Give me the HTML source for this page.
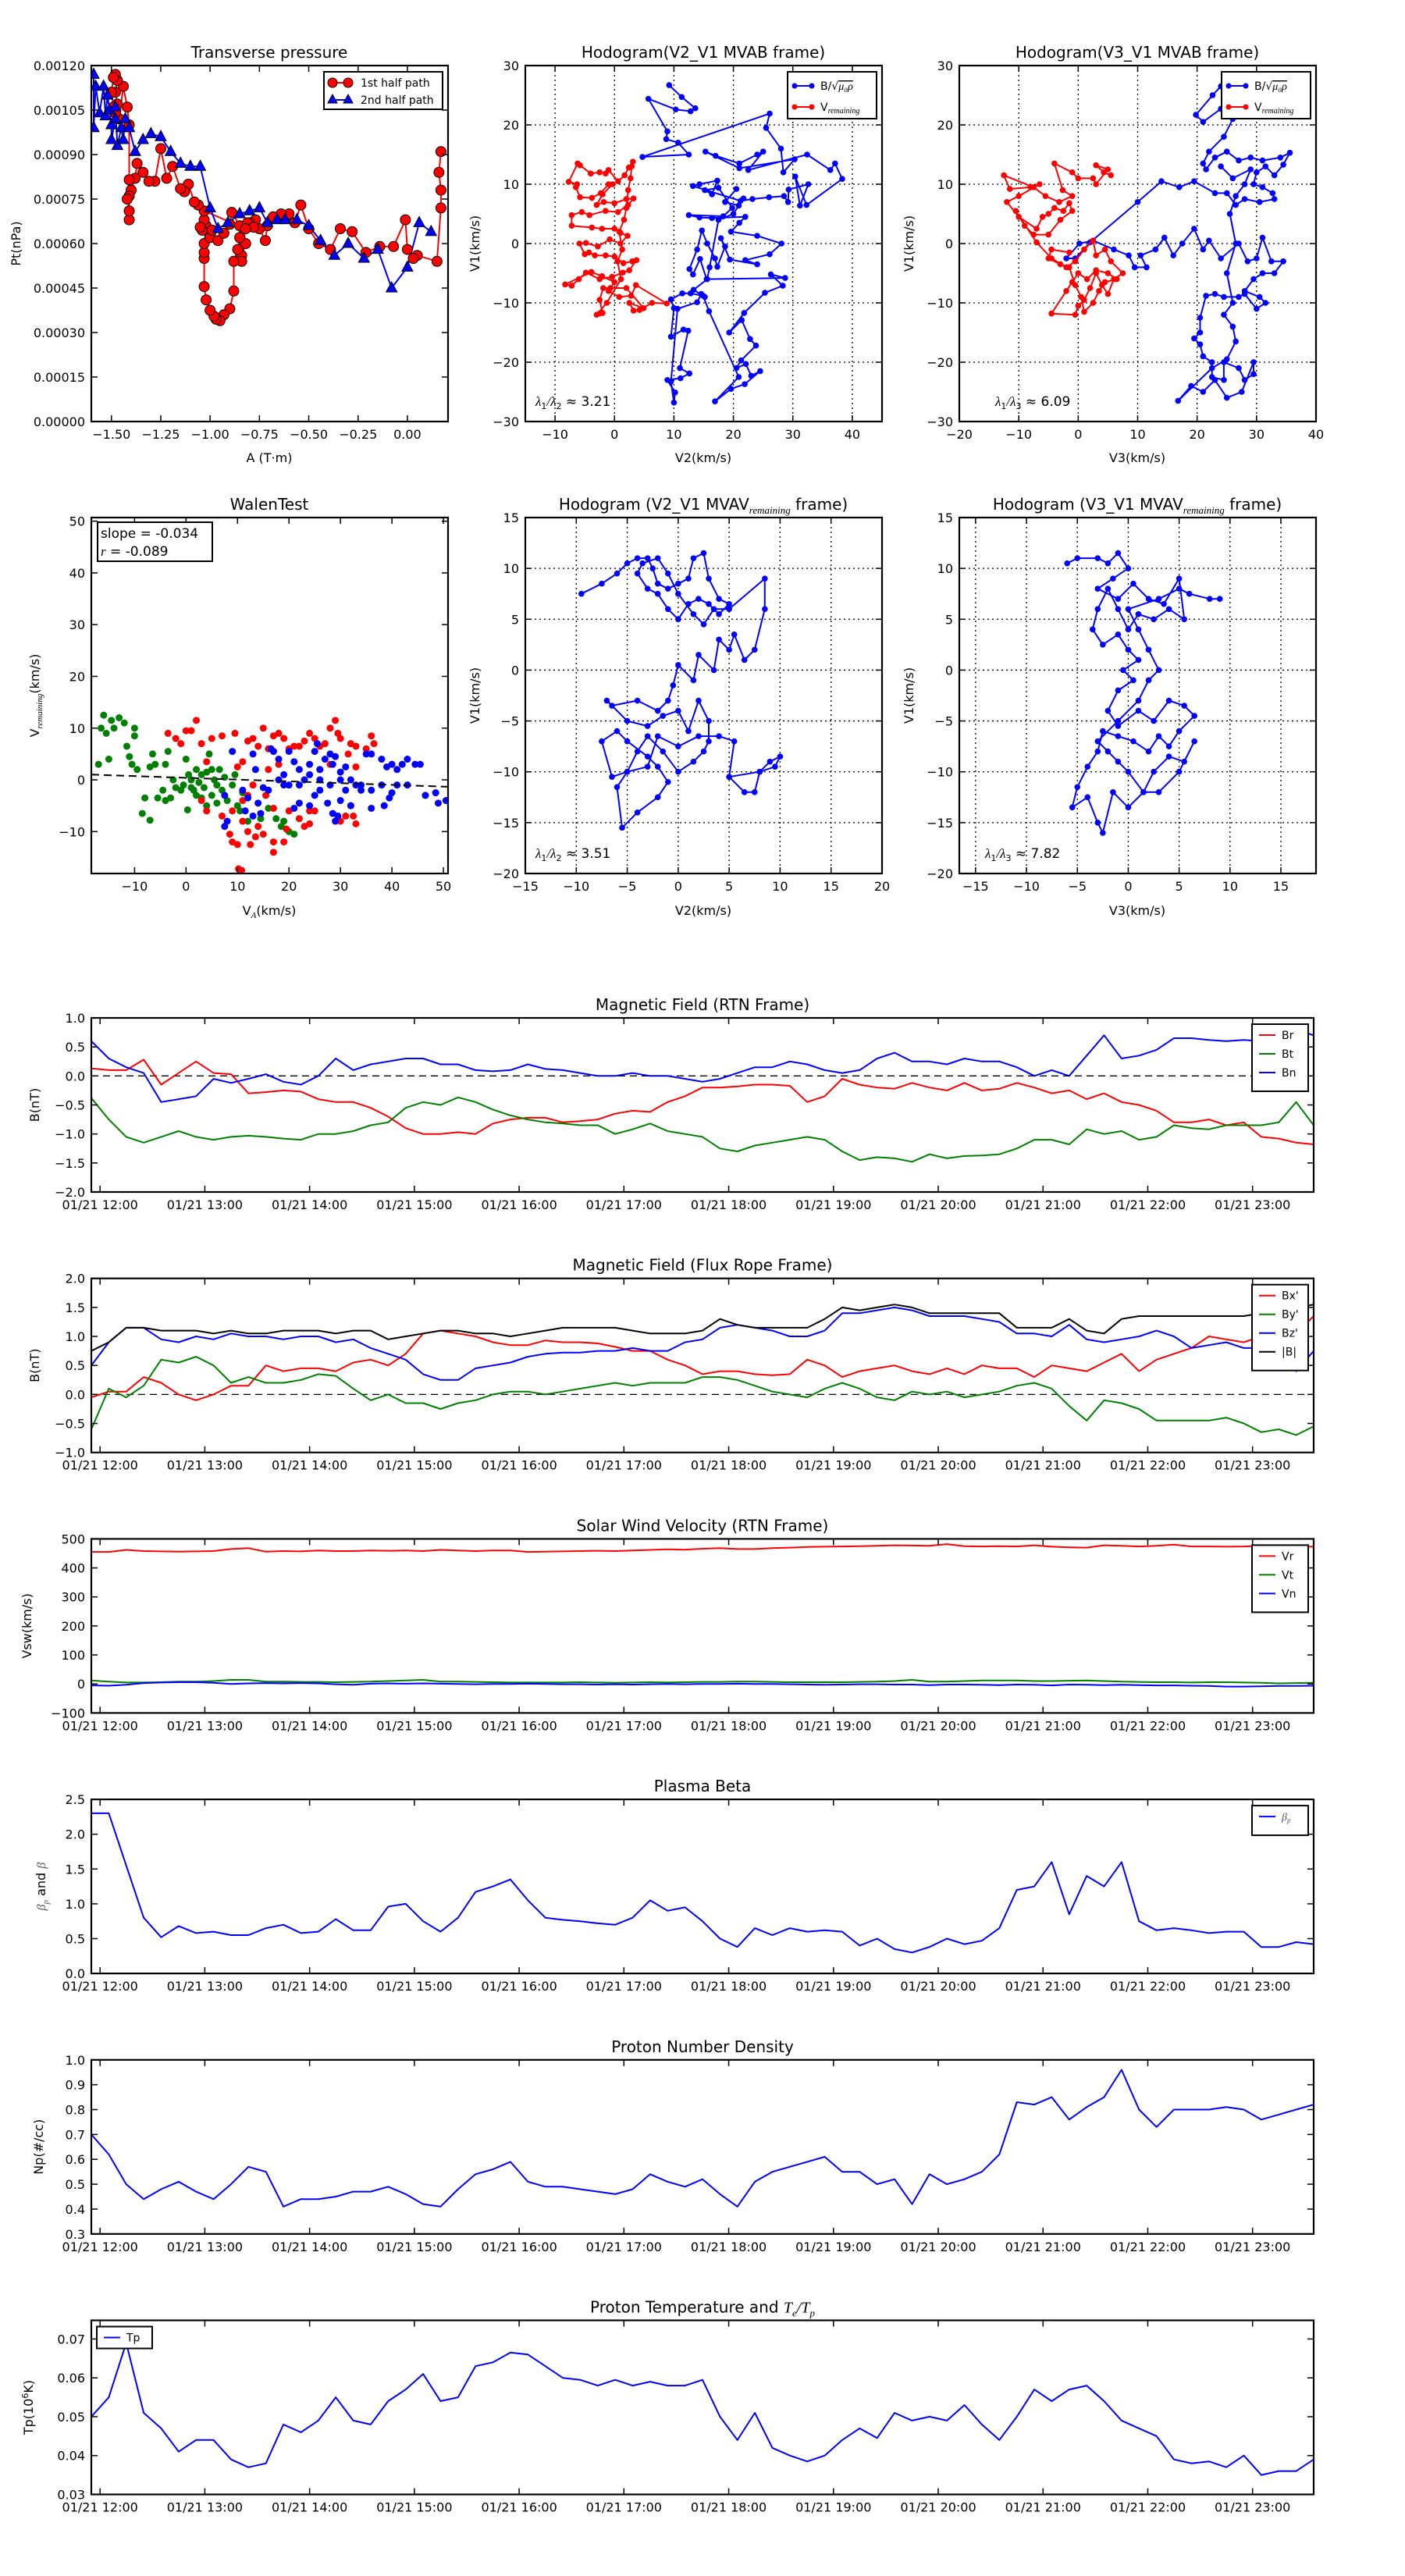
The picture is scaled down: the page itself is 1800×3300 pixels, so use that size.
<!DOCTYPE html>
<html><head><meta charset="utf-8"><title>Flux rope analysis</title>
<style>
html,body{margin:0;padding:0;background:#fff;}
svg{display:block;font-family:"DejaVu Sans","Liberation Sans",sans-serif;}
</style></head>
<body>
<svg id="fig" width="1800" height="3300" viewBox="0 0 1800 3300" xmlns="http://www.w3.org/2000/svg">
<rect x="0" y="0" width="1800" height="3300" fill="#fff"/>
</svg>
<script>
// ---------- time series data (10-min steps from 11:55 to 23:35) ----------
const tStartHour = 11 + 55/60;
const tStepHour = 10/60;
const hourTicks = [12,13,14,15,16,17,18,19,20,21,22,23];
const brVals = [.13,.1,.1,.28,-.15,.05,.25,.05,.03,-.3,-.28,-.25,-.27,-.4,-.45,-.45,-.55,-.7,-.9,-1.0,-1.0,-.97,-1.0,-.82,-.75,-.72,-.72,-.8,-.78,-.75,-.65,-.6,-.62,-.45,-.35,-.2,-.2,-.18,-.15,-.15,-.17,-.45,-.35,-.05,-.15,-.2,-.22,-.12,-.2,-.25,-.12,-.25,-.22,-.12,-.2,-.3,-.25,-.4,-.3,-.45,-.5,-.6,-.8,-.8,-.75,-.85,-.8,-1.05,-1.08,-1.15,-1.18];
const btVals = [-.38,-.75,-1.05,-1.15,-1.05,-.95,-1.05,-1.1,-1.05,-1.03,-1.05,-1.08,-1.1,-1.0,-1.0,-.95,-.85,-.8,-.55,-.45,-.5,-.37,-.45,-.58,-.68,-.75,-.8,-.82,-.85,-.85,-1.0,-.92,-.82,-.95,-1.0,-1.05,-1.25,-1.3,-1.2,-1.15,-1.1,-1.05,-1.1,-1.3,-1.45,-1.4,-1.42,-1.48,-1.35,-1.42,-1.38,-1.37,-1.35,-1.25,-1.1,-1.1,-1.18,-.92,-1.0,-.95,-1.1,-1.05,-.85,-.9,-.92,-.85,-.85,-.85,-.8,-.45,-.85];
const bnVals = [.6,.3,.15,.05,-.45,-.4,-.35,-.05,-.12,-.05,.03,-.1,-.15,0,.3,.1,.2,.25,.3,.3,.2,.2,.1,.08,.1,.2,.12,.1,.05,0,0,.05,0,0,-.05,-.1,-.05,.05,.15,.15,.25,.2,.1,.05,.1,.3,.4,.25,.25,.2,.3,.25,.25,.15,0,.1,0,.35,.7,.3,.35,.45,.65,.65,.62,.6,.62,.6,.58,.8,.7];
const bxpVals = [-.05,.05,.05,.3,.2,0,-.1,0,.15,.15,.5,.4,.45,.45,.4,.55,.6,.5,.7,1.05,1.1,1.05,1.0,.9,.85,.85,.93,.9,.9,.88,.82,.75,.75,.6,.5,.35,.4,.4,.35,.33,.35,.6,.5,.3,.4,.45,.5,.4,.35,.45,.35,.5,.45,.45,.3,.5,.45,.4,.55,.7,.4,.6,.7,.8,1.0,.95,.9,1.0,.95,1.05,1.35];
const bypVals = [-.6,.1,-.05,.15,.6,.55,.65,.5,.2,.3,.2,.2,.25,.35,.32,.1,-.1,0,-.15,-.15,-.25,-.15,-.1,0,.05,.05,0,.05,.1,.15,.2,.15,.2,.2,.2,.3,.3,.25,.15,.05,0,-.05,.1,.2,.1,-.05,-.1,.05,0,.05,-.05,0,.05,.15,.2,.1,-.2,-.45,-.1,-.15,-.25,-.45,-.45,-.45,-.45,-.4,-.5,-.65,-.6,-.7,-.55];
const bzpVals = [.5,.9,1.15,1.15,.95,.9,1.0,.95,1.05,1.0,1.0,.95,1.0,1.0,.9,.95,.8,.7,.6,.35,.25,.25,.45,.5,.55,.65,.7,.72,.72,.75,.75,.8,.75,.75,.9,.95,1.15,1.2,1.15,1.1,1.0,1.0,1.1,1.4,1.4,1.45,1.5,1.45,1.35,1.35,1.35,1.3,1.25,1.05,1.05,1.0,1.2,.95,.9,.95,1.0,1.1,1.0,.8,.85,.9,.8,.8,.85,.4,.75];
const bmagVals = [.75,.9,1.15,1.15,1.1,1.1,1.1,1.05,1.1,1.05,1.05,1.1,1.1,1.1,1.05,1.1,1.1,.95,1.0,1.05,1.1,1.1,1.05,1.05,1.0,1.05,1.1,1.15,1.15,1.15,1.15,1.1,1.05,1.05,1.05,1.1,1.3,1.2,1.15,1.15,1.15,1.15,1.3,1.5,1.45,1.5,1.55,1.5,1.4,1.4,1.4,1.4,1.4,1.15,1.15,1.15,1.3,1.1,1.05,1.3,1.35,1.35,1.35,1.35,1.35,1.35,1.35,1.4,1.5,1.5,1.55];
const vrVals = [455,455,462,458,457,456,457,458,465,468,456,458,457,460,458,458,460,459,460,458,462,460,458,460,460,455,456,457,458,459,458,460,462,464,463,466,468,465,465,468,470,472,473,474,475,476,478,477,476,482,475,474,475,474,478,473,471,470,478,476,474,476,480,474,474,473,474,476,477,474,473];
const vtVals = [12,8,5,5,6,8,8,10,14,14,8,8,7,7,6,7,8,10,12,14,8,8,7,6,5,5,5,5,6,5,4,5,6,5,6,7,7,8,8,7,6,6,6,6,7,8,10,14,8,8,10,12,12,12,10,10,11,12,10,8,7,6,6,5,6,6,5,4,2,3,4];
const vnVals = [-5,-6,-3,3,5,6,6,4,0,2,3,2,3,2,-1,-3,1,2,1,2,1,0,-1,0,0,1,0,-1,-1,-2,-1,-2,-1,0,-1,0,0,1,0,0,-1,-2,-3,-2,-1,-1,-2,-2,-4,-2,-2,-3,-4,-2,-3,-5,-2,-3,-4,-3,-4,-5,-5,-6,-7,-9,-9,-8,-7,-7,-6];
const betaVals = [2.3,2.3,1.55,.8,.52,.68,.58,.6,.55,.55,.65,.7,.58,.6,.78,.62,.62,.96,1.0,.75,.6,.8,1.17,1.25,1.35,1.05,.8,.77,.75,.72,.7,.8,1.05,.9,.95,.75,.5,.38,.65,.55,.65,.6,.62,.6,.4,.5,.35,.3,.38,.5,.42,.47,.65,1.2,1.25,1.6,.85,1.4,1.25,1.6,.75,.62,.65,.62,.58,.6,.6,.38,.38,.45,.42];
const npVals = [.70,.62,.50,.44,.48,.51,.47,.44,.50,.57,.55,.41,.44,.44,.45,.47,.47,.49,.46,.42,.41,.48,.54,.56,.59,.51,.49,.49,.48,.47,.46,.48,.54,.51,.49,.52,.46,.41,.51,.55,.57,.59,.61,.55,.55,.50,.52,.42,.54,.50,.52,.55,.62,.83,.82,.85,.76,.81,.85,.96,.80,.73,.80,.80,.80,.81,.80,.76,.78,.80,.82];
const tpVals = [.050,.055,.069,.051,.047,.041,.044,.044,.039,.037,.038,.048,.046,.049,.055,.049,.048,.054,.057,.061,.054,.055,.063,.064,.0665,.066,.063,.060,.0595,.058,.0595,.058,.059,.058,.058,.0595,.050,.044,.051,.042,.040,.0385,.040,.044,.047,.0445,.051,.049,.050,.049,.053,.048,.044,.050,.057,.054,.057,.058,.054,.049,.047,.045,.039,.038,.0385,.037,.040,.035,.036,.036,.039];

// ---------- transverse pressure (A, Pt x1e-3) ----------
const pt1A = [0.17,0.16,0.17,0.17,0.15,0.05,0.03,0.0,-0.01,-0.07,-0.14,-0.21,-0.28,-0.34,-0.39,-0.45,-0.50,-0.54,-0.57,-0.60,-0.64,-0.68,-0.71,-0.72,-0.75,-0.77,-0.80,-0.83,-0.82,-0.84,-0.84,-0.85,-0.86,-0.88,-0.88,-0.90,-0.93,-0.95,-0.97,-0.98,-1.00,-1.02,-1.03,-1.03,-1.03,-1.03,-1.02,-1.03,-1.04,-1.05,-1.00,-0.99,-0.96,-0.93,-0.90,-0.89,-0.85,-0.81,-0.78,-0.82,-1.03,-1.06,-1.08,-1.11,-1.13,-1.15,-1.19,-1.22,-1.25,-1.28,-1.31,-1.34,-1.37,-1.38,-1.40,-1.41,-1.41,-1.41,-1.42,-1.41,-1.41,-1.42,-1.44,-1.46,-1.47,-1.48,-1.47,-1.48,-1.49,-1.50,-1.49,-1.48];
const pt1P = [0.91,0.84,0.78,0.72,0.54,0.56,0.55,0.58,0.68,0.59,0.59,0.57,0.64,0.65,0.58,0.60,0.65,0.73,0.67,0.70,0.70,0.69,0.66,0.61,0.65,0.68,0.67,0.65,0.60,0.56,0.54,0.62,0.58,0.54,0.44,0.38,0.36,0.34,0.345,0.355,0.375,0.41,0.455,0.55,0.57,0.60,0.66,0.68,0.645,0.655,0.62,0.645,0.61,0.635,0.665,0.705,0.66,0.67,0.655,0.65,0.71,0.73,0.74,0.80,0.775,0.785,0.86,0.82,0.92,0.81,0.81,0.84,0.87,0.82,0.78,0.76,0.68,0.71,0.75,0.815,1.0,1.06,1.13,1.02,1.07,1.11,1.15,1.17,1.16,1.11,1.06,1.04];
const pt2A = [-1.59,-1.59,-1.58,-1.56,-1.54,-1.53,-1.52,-1.51,-1.50,-1.50,-1.48,-1.48,-1.47,-1.45,-1.44,-1.43,-1.41,-1.38,-1.34,-1.30,-1.25,-1.20,-1.15,-1.10,-1.05,-1.00,-0.96,-0.91,-0.85,-0.80,-0.75,-0.71,-0.66,-0.62,-0.56,-0.50,-0.44,-0.37,-0.30,-0.22,-0.15,-0.08,0.0,0.06,0.12];
const pt2P = [1.17,0.99,1.13,1.04,1.13,1.03,1.10,1.05,1.0,0.95,1.02,1.06,0.93,0.99,0.95,1.02,0.99,0.91,0.95,0.97,0.96,0.91,0.87,0.86,0.86,0.72,0.65,0.67,0.70,0.71,0.72,0.67,0.68,0.68,0.68,0.66,0.61,0.56,0.60,0.55,0.58,0.45,0.52,0.67,0.64];

// ---------- hodogram MVAB V2-V1 ----------
const h1BlueX = [9.2,11.3,13.6,12.8,10.3,5.7,8.9,8.7,10.7,12.5,4.7,26.1,25.5,28.0,28.4,30.3,21.0,15.3,17.0,21.0,24.0,25.0,22.5,32.4,36.3,37.1,38.3,32.3,30.4,31.2,32.6,29.3,29.2,28.5,26.0,23.2,21.2,13.2,14.3,17.3,16.4,15.2,17.5,19.8,18.3,12.5,14.3,16.4,22.0,21.0,19.6,24.0,28.1,26.1,22.0,24.0,19.4,17.9,18.6,17.3,16.9,15.6,14.7,13.9,12.6,13.2,14.4,15.5,28.7,26.3,28.3,25.3,21.8,19.3,21.4,22.8,23.8,21.3,20.5,22.1,23.0,24.5,21.9,19.6,16.9,20.9,15.9,14.9,12.8,11.4,9.5,10.0,9.5,11.6,12.4,11.0,12.6,11.1,8.9,10.2,10.0,9.5,10.6,13.9,14.6,15.2,13.3,15.6,16.0,17.5,20.0,21.7,20.9,18.6,20.5];
const h1BlueY = [26.7,24.7,22.8,22.3,22.6,24.4,18.9,17.6,17.0,15.0,14.6,21.9,19.5,16.0,12.0,14.2,12.7,15.5,14.8,13.5,15.0,15.5,12.4,15.0,12.4,13.5,10.9,6.5,11.3,6.4,10.0,9.1,7.0,8.0,7.8,7.5,7.2,9.7,10.0,10.6,8.3,9.0,9.4,6.0,4.6,4.8,4.4,4.3,4.5,3.5,2.0,1.3,0.0,-1.8,-2.8,-3.5,-2.7,0.9,-0.5,-3.9,-2.5,0.0,2.2,-1.0,-4.3,-5.2,-2.6,-6.0,-5.8,-5.2,-7.1,-8.3,-11.7,-15.0,-12.9,-16.1,-17.2,-19.7,-21.0,-20.3,-22.3,-21.5,-23.7,-24.5,-26.6,-22.5,-11.4,-8.8,-8.4,-8.4,-9.4,-10.9,-15.7,-14.5,-14.7,-21.0,-21.9,-22.7,-23.0,-25.1,-26.8,-23.3,-11.0,-9.9,-8.5,-9.0,-7.8,-6.0,-4.0,4.0,5.0,7.6,6.4,7.0,9.2];
const h1RedX = [3.1,2.4,1.7,0.6,-1.0,-1.5,-2.5,-4.0,-5.8,-6.2,-7.7,-6.3,-6.5,-5.8,-3.8,-2.3,-1.0,-0.3,-2.0,-3.0,-1.8,0.0,2.0,3.2,2.3,0.6,-1.5,-4.2,-5.5,-7.2,-7.2,-3.8,-2.1,0.0,1.0,2.2,1.0,-0.8,-2.8,-4.8,-5.9,-5.0,-4.3,-3.3,-1.5,0.0,1.5,3.0,3.7,2.5,1.4,-0.4,-2.5,-4.8,-6.0,-7.2,-8.3,-3.9,-2.1,0.0,-1.0,0.8,2.8,3.6,8.8,6.3,4.2,3.2,2.5,4.9,2.0,-0.7,-1.9,-2.5,-2.0,-2.5,-3.0,-1.3,1.1,0.5,1.3,0.8,1.6,2.0,2.3,2.7,2.9];
const h1RedY = [13.8,12.8,11.5,10.5,12.4,11.8,12.0,11.8,13.2,13.5,10.4,10.0,9.5,7.8,7.7,8.5,10.0,10.0,8.3,6.5,7.0,6.8,7.5,7.6,6.5,5.3,5.5,4.8,5.3,4.8,3.0,2.7,2.5,2.5,1.8,1.3,0.0,0.7,-0.5,0.1,0.0,-1.8,-1.5,-2.0,-2.0,-2.2,-3.3,-3.0,-2.8,-4.5,-4.9,-5.6,-6.0,-4.9,-6.0,-7.1,-6.9,-4.8,-5.5,-6.5,-8.0,-9.0,-8.8,-7.0,-10.1,-10.0,-11.2,-11.3,-10.0,-10.9,-7.5,-7.5,-7.5,-9.5,-11.7,-11.8,-12.0,-10.0,-6.0,-3.0,-1.0,2.0,4.0,6.0,9.0,11.0,13.0];

// ---------- hodogram MVAB V3-V1 ----------
const h2BlueX = [24,22.6,19.8,21,24,25.5,26,24.5,22,21,21.5,23,25,27,29,31,34,35.6,34.5,33,31.5,30,29.5,31,32.7,33,30.5,28,26.5,25,23,19.5,17,14,10,2,-0.5,-2,0.2,2.5,6,8.5,9.5,11.5,10.5,13,14.5,16,17.5,19.5,21,22,24,27,28.5,30,31,32.5,34.5,33,31,29.5,28,30.5,31.5,30,28,27,24.5,23,21.5,20.5,20.5,19.5,20.5,21,22.5,22.5,24.5,24.5,27,28,29.5,29.5,27.5,25,23,21,19,16.8,22.5,25,26.5,26,24.5,26,25,26.5,25.5,26.5,28,29,26,24];
const h2BlueY = [26.5,25,21.7,20.5,22.7,23,21,18,15.5,13.5,12.5,14.5,15.5,14,14.5,14,14.5,15.3,13.3,11.5,13,12,10,9.5,8.5,7.5,7,7.5,6.5,8.5,8.5,10.5,9.5,10.5,7,0.2,-2.5,-2.5,0,0.5,-1,-2,-4,-4,-2,-1,1,-2,0,2.5,-1,0.5,-2.5,0,-3,-2.5,1,-3,-3,-5,-5,-6,-8,-9,-10,-11,-8.5,-9,-9,-8.5,-8.8,-12.5,-15,-16,-17,-19,-20,-22.5,-23,-20,-21,-23,-22,-20,-25,-26,-23,-25,-24,-26.5,-21,-19.5,-16.5,-14,-12,-10,-5,0,5,8,10,12.5,11,13];
const h2RedX = [5.5,4.3,3,5,3,2.5,0,-1,-4,-2.6,-1,-3.2,-5.5,-7.5,-12.5,-11.5,-8,-6.5,-10,-12,-10,-7,-6,-5,-4,-2.5,-1.5,-1,-3,-5,-7.5,-9,-10.5,-7,-4.5,-2,-0.5,1,2.5,3,4.5,5.5,7.5,6,5,4,3,2,1,0,-0.5,-4.5,-2,-1,0,1.5,3,5,6.5,4.5,3.5,2.5,1,0.5,-0.5,-1.5,-3,-5,-4.5,-1.5];
const h2RedY = [11.5,12,13.2,12.5,10,11,11,12,13.5,9,8,7,8,9.5,11.5,9.2,9.5,10,8,7,4.5,2.5,4.5,5,6,5.5,6.8,5.5,4,1.5,1.5,3,5.5,0.2,-2.5,-4,-3,-1,0.5,-2,-1,-3,-5,-6,-8.5,-7,-5,-7.5,-9.5,-10.5,-12,-11.8,-8,-6.5,-5,-6,-4.5,-5,-6,-6.5,-8,-10,-11.5,-9,-7,-4,-3.5,-2.5,-1,-1.5];

// ---------- hodogram MVAV V2-V1 ----------
const h3X = [-9.5,-7.5,-6,-5,-4,-3,-2.5,-2,-1,0,1,1.5,2.5,3,4,5,4,3,2,1,0,-1,-2,-3,-4,-3.5,-2,-1,0,1.5,2.5,3.5,5,8.5,8.5,7.5,6.5,5.5,5,4,3.5,2,1.5,0,-0.5,-1,-2,-4,-6.5,-7,-5,-3,-1.5,0,1,2,3,3,2.5,1.5,0,-1.5,-3,-4,-5,-6.5,-7.5,-6,-5,-3,-2,-1,-2,-4,-5.5,-6,-5,-3,-2,0,2,4,5.5,5,6.5,7.5,8,9,10,9.5,8,5];
const h3Y = [7.5,8.5,9.5,10.5,11,11,10,8.5,8,8.5,9,11,11.5,9,7,6.5,5.5,6.5,7,6.5,5,6,7.5,8,9.5,10.5,11,9.5,7.5,5.5,4.5,6,6,9,6,2,1,3.5,2,3,0,1.5,-1,0.5,-1.5,-3,-4,-3,-3.5,-3,-5,-5.5,-4.5,-4,-6,-3,-5,-7,-8,-9,-10,-8,-6.5,-8,-10,-10.5,-7,-6,-7,-8.5,-9.5,-11,-12.5,-14,-15.5,-11.5,-10,-9.5,-6.5,-7.5,-6.5,-6.5,-7,-10.5,-12,-12,-10,-9,-8.5,-9.5,-10,-10.5];

// ---------- hodogram MVAV V3-V1 ----------
const h4X = [-6,-5,-3,-2,-1,0,-1.5,-3,-1,0.5,2,3.5,5,5.5,4,2.5,1,0,-1,-2,-3,-3.5,-2.5,-1,0,1,-0.5,0.5,-1,-2,-1,1,2.5,4,5.5,6.5,5,4,3,2,0.5,-1,-2.5,-3,-4,-5,-5.5,-4,-3,-2.5,-1.5,0,1.5,2.5,4,5.5,6.5,5,3,1.5,0,-1,-2,-3,-1,1,2,3,2,1,0,3,5,6,8,9];
const h4Y = [10.5,11,11,10.5,11.5,10,9,8,7,8.5,7,6.5,9,5,6,5,5.5,4,6,8,6,4,2.5,3.5,2,1,0,-1,-2,-4,-5.5,-4,-5,-3,-3.5,-4.5,-6,-7.5,-6.5,-8,-7,-6.5,-6,-8,-9.5,-11.5,-13.5,-12.5,-15,-16,-12,-13.5,-12,-10,-8.5,-9,-7,-10,-12,-12,-10,-9,-8,-7,-5,-3,-1,0,2,4,6,7,8,7.5,7,7];

// ---------- Walen test ----------
const walenGreenX = [-17,-16.5,-16,-15.5,-15,-14.5,-14,-13,-12,-11.5,-11,-10.5,-10,-10,-9.5,-8,-8.5,-7,-7,-6.5,-6,-5.5,-4.5,-4,-3.5,-3,-2.5,-2,-1,-0.5,0,0.3,0.5,1,1.5,2,2.5,3,3.5,4,4.5,5,5.5,6,6.5,7,7.5,8,9,9.5,10,10.5,11,12,14.5,16,17.5,18.5,19,20,21,2,4,6,-4,1,3,5];
const walenGreenY = [3,10,12.5,9,4,11.5,10,12,11,6.5,4.5,3,10,8.5,2,-3.5,-6.5,-7.8,2.5,5,3,-3.5,-2,3,5.5,-3.5,0,-1.5,-2,-1,4,-5.8,1,0,-2,2,-0.5,-3.5,-1.5,1.5,5,-3,0,-1,2,-2,0.5,-4,-1,1,-5,-6,-2.5,-8,-7.5,-5.5,-7.5,-9,-8,-10,-10.5,-3,-5,-4.5,-4,-1.5,1,2];
const walenRedX = [-3.5,-2,-1,0,1,2,3,4,5,7,9.5,10,11,12,13,14,15,16,17,18,19,20,21,22,23,24,25,26,27,28,29,29.5,30,32,33,35,36,36.5,31.5,33,3,4,7,8.5,9,10,11,12,12.5,13.5,14,15,15.5,17,17,17,19,19.5,20,22,23,24,24,25,30,31,32,32.5,33,10.2,10.8,12,13,16,18,26,28,9,11];
const walenRedY = [9,8,7,9.5,9.5,11.5,7,3.5,8,8.5,9,2.5,3.5,7.5,8,6.5,10,6,8.5,9,8,6,6.5,6.5,7.5,9,8,6.5,7,10,11.5,9,8,7,6.5,6,8.5,7,5,2.5,-4,-6,-7,-10.5,-12,-12.5,-8,-10,-12.5,-11,-9,-10.5,-3,-5.5,-12,-14,-12,-9.5,-6,-7.5,-9,-8.5,-6,-6,-8,-7,-5,-7,-8.5,-17.2,-17.5,-3,-1,2,3,2,3,-6,-4];
const walenBlueX = [9,13,13.5,16.5,17,18,19,20,21,22,23,24,25,25.5,26,27,28,28.5,29,30,31,32,33,34,35,36,38,39,40,41,42,43,44.5,45.5,46.5,48.5,49,50.5,43,41,38,36,36,38.5,39.5,40,7.5,7.5,8,11,11.5,12,13,14,14.5,15,16,20,21,22,24,25,26,27.5,28.5,29,29.5,30,31,32,18,19,22,24,26,28,30,34];
const walenBlueY = [5.5,5,2,6,5.5,4,1,5.5,3.5,2,0,3,5.5,7,2,4,5,3,4.5,1.5,2.5,0,-1,-1,5,5,4,2.5,3,2,3,4,3,3,-3,-2.5,-4.5,-4,-1,-1,-1,-2,-5.5,-5,-3.5,-2.5,-3,-9,-8,-2,-6,-3.5,-7,-4.5,-6.5,-1.5,-2,-1,-5.5,-4.5,-5,-3,-2,-4.5,-6.5,-8,-7,-4,-2,-5,0,-1,-1,1,0,-1,0,-2];
const walenSlope = -0.034;
const walenIntercept = 0.39;

// ================= drawing helpers =================
const NS = 'http://www.w3.org/2000/svg';
const svg = document.getElementById('fig');
function el(tag, attrs, parent) {
  const e = document.createElementNS(NS, tag);
  for (const k in attrs) e.setAttribute(k, attrs[k]);
  (parent || svg).appendChild(e);
  return e;
}
let clipId = 0;
function axes(o) {
  const g = el('g', {});
  
  
  const sx = v => o.L + (v - o.xmin) / (o.xmax - o.xmin) * (o.R - o.L);
  const sy = v => o.B - (v - o.ymin) / (o.ymax - o.ymin) * (o.B - o.T);
  if (o.grid) {
    const gg = el('g', {stroke: '#000', 'stroke-width': 1.3, 'stroke-dasharray': '2,4'}, g);
    
    
    o.xt.forEach(v => { const x = sx(v); if (x > o.L + 1 && x < o.R - 1) el('line', {x1: x, x2: x, y1: o.T, y2: o.B}, gg); });
    o.yt.forEach(v => { const y = sy(v); if (y > o.T + 1 && y < o.B - 1) el('line', {x1: o.L, x2: o.R, y1: y, y2: y}, gg); });
  }
  const id = 'clip' + (clipId++);
  const cp = el('clipPath', {id: id}, g);
  el('rect', {x: o.L, y: o.T, width: o.R - o.L, height: o.B - o.T}, cp);
  const data = el('g', {'clip-path': 'url(#' + id + ')'}, g);
  
  
  function finish() {
    const tg = el('g', {stroke: '#000', 'stroke-width': 1.5}, g);
    
    
    const lg = el('g', {'font-size': 16, fill: '#000'}, g);
    
    
    o.xt.forEach(v => {
      const x = sx(v);
      el('line', {x1: x, x2: x, y1: o.B, y2: o.B - 8}, tg);
      el('line', {x1: x, x2: x, y1: o.T, y2: o.T + 8}, tg);
      const t = el('text', {x: x, y: o.B + 22, 'text-anchor': 'middle'}, lg);
      t.textContent = o.xf(v);
    });
    o.yt.forEach(v => {
      const y = sy(v);
      el('line', {x1: o.L, x2: o.L + 8, y1: y, y2: y}, tg);
      el('line', {x1: o.R, x2: o.R - 8, y1: y, y2: y}, tg);
      const t = el('text', {x: o.L - 8, y: y + 6, 'text-anchor': 'end'}, lg);
      t.textContent = o.yf(v);
    });
    const fr = el('rect', {x: o.L, y: o.T, width: o.R - o.L, height: o.B - o.T, fill: 'none', stroke: '#000', 'stroke-width': 2.2}, g);
    
    
  }
  return {g, data, sx, sy, finish};
}
function title(g, x, y, html, name) {
  const t = el('text', {x: x, y: y, 'text-anchor': 'middle', 'font-size': 20}, g);
  
  
  t.innerHTML = html;
  return t;
}
function xlabel(g, x, y, html) {
  const t = el('text', {x: x, y: y, 'text-anchor': 'middle', 'font-size': 16}, g);
  
  
  t.innerHTML = html;
}
function ylabel(g, x, y, html) {
  const t = el('text', {x: 0, y: 0, transform: 'translate(' + x + ',' + y + ') rotate(-90)', 'text-anchor': 'middle', 'font-size': 16}, g);
  
  
  t.innerHTML = html;
}
function polyline(parent, xs, ys, ax, color, w) {
  let d = '';
  for (let i = 0; i < Math.min(xs.length, ys.length); i++) d += (i ? ' ' : '') + ax.sx(xs[i]).toFixed(1) + ',' + ax.sy(ys[i]).toFixed(1);
  const p = el('polyline', {points: d, fill: 'none', stroke: color, 'stroke-width': w || 2, 'stroke-linejoin': 'round'}, parent);
  return p;
}
function range(a, b, s) { const r = []; for (let v = a; v <= b + 1e-9; v += s) r.push(+v.toFixed(6)); return r; }
function intFmt(v) { return (v < 0 ? '\u2212' : '') + Math.abs(v); }
function fix(n) { return v => (v < 0 ? '\u2212' : '') + Math.abs(v).toFixed(n); }

// ================= Row 1 / Row 2 scatter plots =================
const cols = [[117, 574], [673, 1130], [1229, 1686]];
const row1 = [84, 540], row2 = [663, 1119];

// ---- Transverse pressure ----
(function () {
  const ax = axes({name: 'transverse-pressure-plot', L: cols[0][0], R: cols[0][1], T: row1[0], B: row1[1], xmin: -1.602, xmax: 0.206, ymin: 0, ymax: 0.0012,
    xt: [-1.5, -1.25, -1.0, -0.75, -0.5, -0.25, 0.0], yt: range(0, 0.0012, 0.00015), xf: fix(2), yf: v => v.toFixed(5)});
  title(ax.g, 345, 74, 'Transverse pressure', 'transverse-pressure-title');
  xlabel(ax.g, 345, 592, 'A (T\u00b7m)');
  ylabel(ax.g, 26, 312, 'Pt(nPa)');
  const p1 = polyline(ax.data, pt1A, pt1P.map(v => v * 1e-3), ax, '#f00', 2);
  
  
  const p2 = polyline(ax.data, pt2A, pt2P.map(v => v * 1e-3), ax, '#00f', 2);
  
  
  for (let i = 0; i < pt1A.length; i++) {
    const c = el('circle', {cx: ax.sx(pt1A[i]), cy: ax.sy(pt1P[i] * 1e-3), r: 6.5, fill: '#f00', stroke: '#000', 'stroke-width': 1}, ax.data);
    
    
  }
  for (let i = 0; i < pt2A.length; i++) {
    const x = ax.sx(pt2A[i]), y = ax.sy(pt2P[i] * 1e-3);
    const t = el('polygon', {points: x + ',' + (y - 8) + ' ' + (x - 7) + ',' + (y + 5) + ' ' + (x + 7) + ',' + (y + 5), fill: '#00f', stroke: '#000', 'stroke-width': 1}, ax.data);
    
    
  }
  ax.finish();
  const lg = el('g', {}, ax.g);
  
  
  el('rect', {x: 415, y: 92, width: 152, height: 48, fill: '#fff', stroke: '#000', 'stroke-width': 2}, lg);
  el('line', {x1: 425, x2: 447, y1: 106, y2: 106, stroke: '#f00', 'stroke-width': 2}, lg);
  el('circle', {cx: 426, cy: 106, r: 6, fill: '#f00', stroke: '#000'}, lg);
  el('circle', {cx: 446, cy: 106, r: 6, fill: '#f00', stroke: '#000'}, lg);
  el('line', {x1: 425, x2: 447, y1: 128, y2: 128, stroke: '#00f', 'stroke-width': 2}, lg);
  el('polygon', {points: '426,121 420,132 432,132', fill: '#00f', stroke: '#000'}, lg);
  el('polygon', {points: '446,121 440,132 452,132', fill: '#00f', stroke: '#000'}, lg);
  const a = el('text', {x: 462, y: 111, 'font-size': 14}, lg); a.textContent = '1st half path';
  const b = el('text', {x: 462, y: 133, 'font-size': 14}, lg); b.textContent = '2nd half path';
})();

function hodoLegend(g, x0) {
  const lg = el('g', {}, g);
  
  
  el('rect', {x: x0, y: 92, width: 114, height: 60, fill: '#fff', stroke: '#000', 'stroke-width': 2}, lg);
  el('line', {x1: x0 + 8, x2: x0 + 32, y1: 110, y2: 110, stroke: '#00f', 'stroke-width': 2}, lg);
  el('circle', {cx: x0 + 9, cy: 110, r: 3.5, fill: '#00f'}, lg);
  el('circle', {cx: x0 + 31, cy: 110, r: 3.5, fill: '#00f'}, lg);
  el('line', {x1: x0 + 8, x2: x0 + 32, y1: 137, y2: 137, stroke: '#f00', 'stroke-width': 2}, lg);
  el('circle', {cx: x0 + 9, cy: 137, r: 3.5, fill: '#f00'}, lg);
  el('circle', {cx: x0 + 31, cy: 137, r: 3.5, fill: '#f00'}, lg);
  const a = el('text', {x: x0 + 42, y: 115, 'font-size': 14}, lg);
  a.innerHTML = 'B/\u221a<tspan font-family="Liberation Serif,serif" font-style="italic" text-decoration="overline">\u03bc\u2080\u03c1</tspan>';
  const b = el('text', {x: x0 + 42, y: 142, 'font-size': 14}, lg);
  b.innerHTML = 'V<tspan font-size="10" dy="3" font-family="Liberation Serif,serif" font-style="italic">remaining</tspan>';
}
function lambdaText(g, x, y, sub, val) {
  const t = el('text', {x: x, y: y, 'font-size': 17}, g);
  
  
  t.innerHTML = '<tspan font-family="Liberation Serif,serif" font-style="italic">\u03bb</tspan><tspan font-size="11" dy="4">1</tspan><tspan dy="-4" font-family="Liberation Serif,serif" font-style="italic">/\u03bb</tspan><tspan font-size="11" dy="4">' + sub + '</tspan><tspan dy="-4"> \u2248 ' + val + '</tspan>';
}
function hodoSeries(ax, xs, ys, color, name) {
  const p = polyline(ax.data, xs, ys, ax, color, 2);
  
  
  for (let i = 0; i < Math.min(xs.length, ys.length); i++) {
    const c = el('circle', {cx: ax.sx(xs[i]), cy: ax.sy(ys[i]), r: 3.8, fill: color}, ax.data);
    
    
  }
}

// ---- Hodogram V2_V1 MVAB ----
(function () {
  const ax = axes({name: 'hodogram-v2-v1-mvab', L: cols[1][0], R: cols[1][1], T: row1[0], B: row1[1], xmin: -15, xmax: 45, ymin: -30, ymax: 30,
    xt: range(-10, 40, 10), yt: range(-30, 30, 10), xf: intFmt, yf: intFmt, grid: true});
  title(ax.g, 901, 74, 'Hodogram(V2_V1 MVAB frame)', 'hodogram-v2-v1-mvab-title');
  xlabel(ax.g, 901, 592, 'V2(km/s)');
  ylabel(ax.g, 614, 312, 'V1(km/s)');
  hodoSeries(ax, h1BlueX, h1BlueY, '#00f', 'b-alfven');
  hodoSeries(ax, h1RedX, h1RedY, '#f00', 'v-remaining');
  ax.finish();
  hodoLegend(ax.g, 1009);
  lambdaText(ax.g, 686, 520, '2', '3.21');
})();

// ---- Hodogram V3_V1 MVAB ----
(function () {
  const ax = axes({name: 'hodogram-v3-v1-mvab', L: cols[2][0], R: cols[2][1], T: row1[0], B: row1[1], xmin: -20, xmax: 40, ymin: -30, ymax: 30,
    xt: range(-20, 40, 10), yt: range(-30, 30, 10), xf: intFmt, yf: intFmt, grid: true});
  title(ax.g, 1457, 74, 'Hodogram(V3_V1 MVAB frame)', 'hodogram-v3-v1-mvab-title');
  xlabel(ax.g, 1457, 592, 'V3(km/s)');
  ylabel(ax.g, 1170, 312, 'V1(km/s)');
  hodoSeries(ax, h2BlueX, h2BlueY, '#00f', 'b-alfven');
  hodoSeries(ax, h2RedX, h2RedY, '#f00', 'v-remaining');
  ax.finish();
  hodoLegend(ax.g, 1565);
  lambdaText(ax.g, 1275, 520, '3', '6.09');
})();

// ---- Walen test ----
(function () {
  const ax = axes({name: 'walen-test-plot', L: cols[0][0], R: cols[0][1], T: row2[0], B: row2[1], xmin: -18.4, xmax: 50.9, ymin: -18.1, ymax: 50.7,
    xt: range(-10, 50, 10), yt: range(-10, 50, 10), xf: intFmt, yf: intFmt});
  title(ax.g, 345, 653, 'WalenTest', 'walen-test-title');
  xlabel(ax.g, 345, 1172, 'V<tspan font-size="11" dy="4" font-family="Liberation Serif,serif" font-style="italic">A</tspan><tspan dy="-4">(km/s)</tspan>');
  ylabel(ax.g, 50, 891, 'V<tspan font-size="11" dy="4" font-family="Liberation Serif,serif" font-style="italic">remaining</tspan><tspan dy="-4">(km/s)</tspan>');
  const sets = [[walenGreenX, walenGreenY, '#008000', 'walen-green-point'], [walenRedX, walenRedY, '#f00', 'walen-red-point'], [walenBlueX, walenBlueY, '#00f', 'walen-blue-point']];
  sets.forEach(s => {
    for (let i = 0; i < Math.min(s[0].length, s[1].length); i++) {
      const c = el('circle', {cx: ax.sx(s[0][i]), cy: ax.sy(s[1][i]), r: 4.5, fill: s[2]}, ax.data);
      
      
    }
  });
  const xa = -18.4, xb = 50.9;
  const fl = el('line', {x1: ax.sx(xa), y1: ax.sy(walenIntercept + walenSlope * xa), x2: ax.sx(xb), y2: ax.sy(walenIntercept + walenSlope * xb), stroke: '#000', 'stroke-width': 2, 'stroke-dasharray': '10,6'}, ax.data);
  
  
  ax.finish();
  const bx = el('g', {}, ax.g);
  
  
  el('rect', {x: 125, y: 669, width: 147, height: 50, fill: '#fff', stroke: '#000', 'stroke-width': 2}, bx);
  const a = el('text', {x: 129, y: 689, 'font-size': 17}, bx); a.textContent = 'slope = -0.034';
  const b = el('text', {x: 129, y: 712, 'font-size': 17}, bx);
  b.innerHTML = '<tspan font-family="Liberation Serif,serif" font-style="italic">r</tspan> = -0.089';
})();

// ---- Hodogram V2_V1 MVAV ----
(function () {
  const ax = axes({name: 'hodogram-v2-v1-mvav', L: cols[1][0], R: cols[1][1], T: row2[0], B: row2[1], xmin: -15, xmax: 20, ymin: -20, ymax: 15,
    xt: range(-15, 20, 5), yt: range(-20, 15, 5), xf: intFmt, yf: intFmt, grid: true});
  title(ax.g, 901, 653, 'Hodogram (V2_V1 MVAV<tspan font-size="13" dy="5" font-family="Liberation Serif,serif" font-style="italic">remaining</tspan><tspan dy="-5"> frame)</tspan>', 'hodogram-v2-v1-mvav-title');
  xlabel(ax.g, 901, 1172, 'V2(km/s)');
  ylabel(ax.g, 614, 891, 'V1(km/s)');
  hodoSeries(ax, h3X, h3Y, '#00f', 'v-remaining');
  ax.finish();
  lambdaText(ax.g, 686, 1099, '2', '3.51');
})();

// ---- Hodogram V3_V1 MVAV ----
(function () {
  const ax = axes({name: 'hodogram-v3-v1-mvav', L: cols[2][0], R: cols[2][1], T: row2[0], B: row2[1], xmin: -16.6, xmax: 18.45, ymin: -20, ymax: 15,
    xt: range(-15, 15, 5), yt: range(-20, 15, 5), xf: intFmt, yf: intFmt, grid: true});
  title(ax.g, 1457, 653, 'Hodogram (V3_V1 MVAV<tspan font-size="13" dy="5" font-family="Liberation Serif,serif" font-style="italic">remaining</tspan><tspan dy="-5"> frame)</tspan>', 'hodogram-v3-v1-mvav-title');
  xlabel(ax.g, 1457, 1172, 'V3(km/s)');
  ylabel(ax.g, 1170, 891, 'V1(km/s)');
  hodoSeries(ax, h4X, h4Y, '#00f', 'v-remaining');
  ax.finish();
  lambdaText(ax.g, 1262, 1099, '3', '7.82');
})();

// ================= time series panels =================
const tsL = 117, tsR = 1683, tsH = 223;
const tsTop = k => 1304 + k * 333.7;
const tMin = 11 + 55/60, tMax = 23.5833;
function timeOf(i) { return tStartHour + i * tStepHour; }
function hourFmt(h) { return '01/21 ' + (h < 10 ? '0' : '') + h + ':00'; }
function tsPanel(k, name, ttl, ymin, ymax, yt, yf, ylab, ylabX, series, legend, zeroLine) {
  const T = tsTop(k), B = T + tsH;
  const ax = axes({name: name, L: tsL, R: tsR, T: T, B: B, xmin: tMin, xmax: tMax, ymin: ymin, ymax: ymax, xt: hourTicks, yt: yt, xf: hourFmt, yf: yf});
  title(ax.g, 900, T - 10, ttl, name + '-title');
  ylabel(ax.g, ylabX, T + tsH / 2, ylab);
  if (zeroLine) {
    const z = el('line', {x1: tsL, x2: tsR, y1: ax.sy(0), y2: ax.sy(0), stroke: '#000', 'stroke-width': 1.3, 'stroke-dasharray': '9,6'}, ax.data);
    
    
  }
  series.forEach(s => {
    const ts = s.vals.map((v, i) => timeOf(i));
    const p = polyline(ax.data, ts, s.vals, ax, s.color, 2);
    
    
  });
  ax.finish();
  if (legend) {
    const lg = el('g', {}, ax.g);
    
    
    const n = series.length;
    const h = 14 + n * 24;
    const x0 = legend === 'left' ? 124 : 1604;
    el('rect', {x: x0, y: T + 8, width: legend === 'left' ? 71 : 72, height: legend === 'left' ? 28 : h, fill: '#fff', stroke: '#000', 'stroke-width': 2}, lg);
    series.forEach((s, i) => {
      const y = T + 22 + i * 24;
      el('line', {x1: x0 + 9, x2: x0 + 30, y1: y, y2: y, stroke: s.color, 'stroke-width': 2}, lg);
      const t = el('text', {x: x0 + 38, y: y + 5, 'font-size': 14}, lg);
      t.innerHTML = s.label;
    });
  }
  return ax;
}
tsPanel(0, 'magnetic-field-rtn', 'Magnetic Field (RTN Frame)', -2, 1, range(-2, 1, 0.5), fix(1), 'B(nT)', 50,
  [{vals: brVals, color: '#f00', name: 'br', label: 'Br'}, {vals: btVals, color: '#008000', name: 'bt', label: 'Bt'}, {vals: bnVals, color: '#00f', name: 'bn', label: 'Bn'}], 'right', true);
tsPanel(1, 'magnetic-field-flux-rope', 'Magnetic Field (Flux Rope Frame)', -1, 2, range(-1, 2, 0.5), fix(1), 'B(nT)', 50,
  [{vals: bxpVals, color: '#f00', name: 'bx-prime', label: "Bx'"}, {vals: bypVals, color: '#008000', name: 'by-prime', label: "By'"}, {vals: bzpVals, color: '#00f', name: 'bz-prime', label: "Bz'"}, {vals: bmagVals, color: '#000', name: 'b-magnitude', label: '|B|'}], 'right', true);
tsPanel(2, 'solar-wind-velocity', 'Solar Wind Velocity (RTN Frame)', -100, 500, range(-100, 500, 100), intFmt, 'Vsw(km/s)', 40,
  [{vals: vrVals, color: '#f00', name: 'vr', label: 'Vr'}, {vals: vtVals, color: '#008000', name: 'vt', label: 'Vt'}, {vals: vnVals, color: '#00f', name: 'vn', label: 'Vn'}], 'right', false);
tsPanel(3, 'plasma-beta', 'Plasma Beta', 0, 2.5, range(0, 2.5, 0.5), fix(1), '<tspan fill="#555" font-family="Liberation Serif,serif" font-style="italic">\u03b2</tspan><tspan fill="#555" font-size="11" dy="4" font-family="Liberation Serif,serif" font-style="italic">p</tspan><tspan dy="-4"> and </tspan><tspan fill="#555" font-family="Liberation Serif,serif" font-style="italic">\u03b2</tspan>', 58,
  [{vals: betaVals, color: '#00f', name: 'beta-p', label: '<tspan font-family="Liberation Serif,serif" font-style="italic" fill="#555">\u03b2</tspan><tspan font-size="9" dy="3" font-family="Liberation Serif,serif" font-style="italic" fill="#555">p</tspan>'}], 'right', false);
tsPanel(4, 'proton-number-density', 'Proton Number Density', 0.3, 1.0, range(0.3, 1.0, 0.1), fix(1), 'Np(#/cc)', 55,
  [{vals: npVals, color: '#00f', name: 'np', label: 'Np'}], null, false);
tsPanel(5, 'proton-temperature', 'Proton Temperature and <tspan font-family="Liberation Serif,serif" font-style="italic">T</tspan><tspan font-size="13" dy="5" font-family="Liberation Serif,serif" font-style="italic">e</tspan><tspan dy="-5" font-family="Liberation Serif,serif" font-style="italic">/T</tspan><tspan font-size="13" dy="5" font-family="Liberation Serif,serif" font-style="italic">p</tspan>', 0.03, 0.0748, range(0.03, 0.07, 0.01), fix(2), 'Tp(10<tspan font-size="11" dy="-6">6</tspan><tspan dy="6">K)</tspan>', 42,
  [{vals: tpVals, color: '#00f', name: 'tp', label: 'Tp'}], 'left', false);
</script>
</body></html>
